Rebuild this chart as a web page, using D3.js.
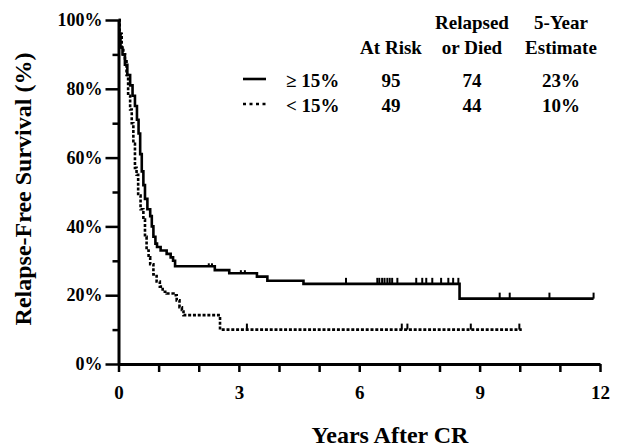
<!DOCTYPE html>
<html>
<head>
<meta charset="utf-8">
<script src="https://cdn.jsdelivr.net/npm/d3@7"></script>
<style>
  body { margin: 0; background: #fff; }
  svg text { font-family: "Liberation Serif", "Times New Roman", serif; font-weight: bold; fill: #000; }
</style>
</head>
<body>
<div id="vis"></div>
<script>
// >= 15% group
const hiTimes = [0, 0.02, 0.05, 0.1, 0.16, 0.22, 0.29, 0.35, 0.41, 0.46, 0.5, 0.54, 0.58, 0.62, 0.66, 0.72, 0.79, 0.83, 0.87, 0.92, 0.96, 1.05, 1.2, 1.3, 1.36, 1.41, 2.4, 2.76, 3.45, 3.71, 4.61, 8.5];
const hiSurv  = [100, 96, 92, 90, 87, 84, 81, 78, 75, 71, 67, 61, 56, 52, 48, 45, 43, 40, 37, 35, 34, 33, 32, 31, 30, 28.4, 27.3, 26.4, 25.4, 24.2, 23.3, 19];
const hiEnd = 11.84;
const hiCensor = [2.25, 2.33, 3.05, 3.15, 5.67, 6.45, 6.5, 6.57, 6.63, 6.7, 6.76, 6.82, 6.95, 7.42, 7.57, 7.67, 7.82, 8.04, 8.22, 8.34, 8.47, 9.5, 9.75, 10.74, 11.84];

// < 15% group
const loTimes = [0, 0.03, 0.08, 0.12, 0.16, 0.2, 0.24, 0.29, 0.33, 0.37, 0.41, 0.45, 0.49, 0.55, 0.62, 0.66, 0.7, 0.75, 0.79, 0.87, 0.95, 1.03, 1.1, 1.2, 1.37, 1.45, 1.52, 1.58, 1.62, 2.53];
const loSurv  = [100, 96, 92, 90, 88, 84, 78, 74, 70, 64, 57, 55, 49, 45, 42, 37, 33, 31, 29, 26, 24, 22.5, 21, 20.5, 20, 18.5, 16.5, 15.7, 14.2, 10];
const loEnd = 10.05;
const loCensor = [3.2, 7.06, 7.2, 8.78, 9.99];

const groupLabels = ["\u2265 15%", "< 15%"];
const atRisk = [95, 49];
const relapsed = [74, 44];
const estimate = ["23%", "10%"];

const xTicks = [0, 1, 2, 3, 4, 5, 6, 7, 8, 9, 10, 11, 12];
const yTicks = [0, 20, 40, 60, 80, 100];
const yMinor = [10, 30, 50, 70, 90];

const width = 620, height = 447;

const x = d3.scaleLinear().domain([0, 12]).range([118.5, 600]);
const y = d3.scaleLinear().domain([0, 100]).range([364, 20]);

const svg = d3.select("#vis").append("svg")
    .attr("width", width)
    .attr("height", height);

// axes
const xAxis = svg.append("g")
    .attr("transform", "translate(0," + y(0) + ")")
    .call(d3.axisBottom(x)
        .tickValues(xTicks)
        .tickSize(8)
        .tickSizeOuter(0)
        .tickPadding(14)
        .tickFormat(d => d % 3 === 0 ? d : ""));
xAxis.select(".domain").attr("stroke-width", 3);
xAxis.selectAll(".tick line").attr("stroke-width", 2.5);
xAxis.selectAll("text").attr("font-size", "19px");

const yMinorAxis = svg.append("g")
    .attr("transform", "translate(" + x(0) + ",0)")
    .call(d3.axisLeft(y).tickValues(yMinor).tickSize(6).tickFormat(""));
yMinorAxis.select(".domain").remove();
yMinorAxis.selectAll(".tick line").attr("stroke-width", 2.5);

const yAxis = svg.append("g")
    .attr("transform", "translate(" + x(0) + ",0)")
    .call(d3.axisLeft(y)
        .tickValues(yTicks)
        .tickSize(13)
        .tickSizeOuter(0)
        .tickPadding(3)
        .tickFormat(d => d + "%"));
yAxis.select(".domain").attr("stroke-width", 3);
yAxis.selectAll(".tick line").attr("stroke-width", 2.5);
yAxis.selectAll("text").attr("font-size", "18px");

// axis titles
svg.append("text")
    .attr("x", 390).attr("y", 443)
    .attr("text-anchor", "middle")
    .attr("font-size", "24px")
    .text("Years After CR");

svg.append("text")
    .attr("transform", "translate(31,189) rotate(-90)")
    .attr("text-anchor", "middle")
    .attr("font-size", "24px")
    .text("Relapse-Free Survival (%)");

// curves
function kmPoints(times, surv, end) {
    const pts = times.map((t, i) => [t, surv[i]]);
    pts.push([end, surv[surv.length - 1]]);
    return pts;
}
function survAt(times, surv, t) {
    const i = d3.bisectRight(times, t) - 1;
    return surv[Math.max(0, i)];
}

const line = d3.line()
    .x(d => x(d[0]))
    .y(d => y(d[1]))
    .curve(d3.curveStepAfter);

svg.append("path")
    .datum(kmPoints(hiTimes, hiSurv, hiEnd))
    .attr("d", line)
    .attr("fill", "none")
    .attr("stroke", "#000")
    .attr("stroke-width", 2.6);

svg.append("path")
    .datum(kmPoints(loTimes, loSurv, loEnd))
    .attr("d", line)
    .attr("fill", "none")
    .attr("stroke", "#000")
    .attr("stroke-width", 2.6)
    .attr("stroke-dasharray", "3,1.8");

// censor marks
svg.selectAll(".cHi")
    .data(hiCensor)
    .enter()
    .append("line")
        .attr("x1", d => x(d)).attr("x2", d => x(d))
        .attr("y1", d => y(survAt(hiTimes, hiSurv, d)))
        .attr("y2", d => y(survAt(hiTimes, hiSurv, d)) - (d < 4 ? 3 : 6))
        .attr("stroke", "#000")
        .attr("stroke-width", 2);

svg.selectAll(".cLo")
    .data(loCensor)
    .enter()
    .append("line")
        .attr("x1", d => x(d)).attr("x2", d => x(d))
        .attr("y1", d => y(survAt(loTimes, loSurv, d)))
        .attr("y2", d => y(survAt(loTimes, loSurv, d)) - 6)
        .attr("stroke", "#000")
        .attr("stroke-width", 2);

// legend table
const colX = [391, 472, 561];
const head = svg.append("g").attr("font-size", "19px");
[["", "At Risk"], ["Relapsed", "or Died"], ["5-Year", "Estimate"]].forEach((h, i) => {
    head.append("text").attr("x", colX[i]).attr("y", 29).attr("text-anchor", "middle").attr("font-size", "19px").text(h[0]);
    head.append("text").attr("x", colX[i]).attr("y", 54).attr("text-anchor", "middle").attr("font-size", "19px").text(h[1]);
});

const rowY = [87, 112];
groupLabels.forEach((g, i) => {
    svg.append("line")
        .attr("x1", 243).attr("x2", 266)
        .attr("y1", rowY[i] - 8).attr("y2", rowY[i] - 8)
        .attr("stroke", "#000")
        .attr("stroke-width", 2.6)
        .attr("stroke-dasharray", i === 0 ? null : "3,3.5");
    svg.append("text").attr("x", 286).attr("y", rowY[i]).attr("font-size", "19px").text(g);
    svg.append("text").attr("x", colX[0]).attr("y", rowY[i]).attr("text-anchor", "middle").attr("font-size", "19px").text(atRisk[i]);
    svg.append("text").attr("x", colX[1]).attr("y", rowY[i]).attr("text-anchor", "middle").attr("font-size", "19px").text(relapsed[i]);
    svg.append("text").attr("x", colX[2]).attr("y", rowY[i]).attr("text-anchor", "middle").attr("font-size", "19px").text(estimate[i]);
});
</script>
</body>
</html>
